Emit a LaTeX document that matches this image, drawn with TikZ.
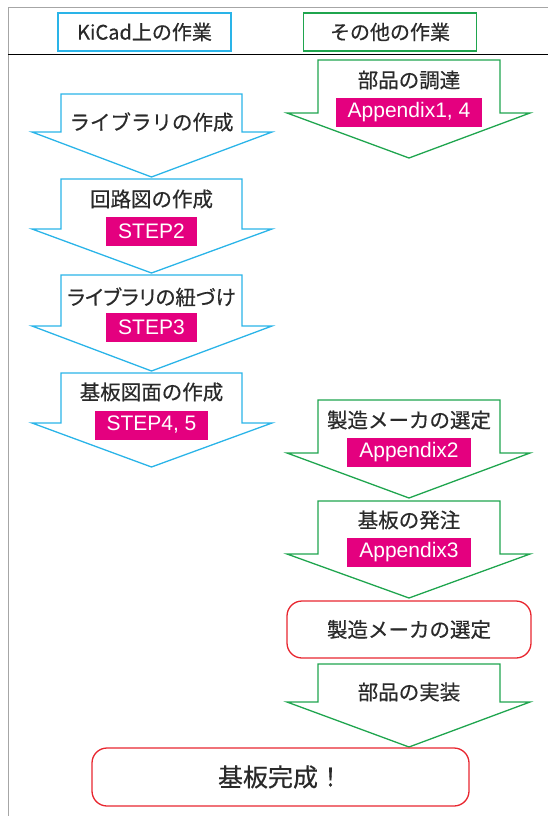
\documentclass[tikz,border=0pt]{standalone}
\usepackage{fontspec}
\setmainfont[FakeBold=0.5]{Noto Sans CJK JP}
\newfontfamily\paltfont[RawFeature=+palt,FakeBold=0.5]{Noto Sans CJK JP}
\newfontfamily\latinfont{Liberation Sans}
\definecolor{kcyan}{HTML}{2AB4E8}
\definecolor{kgreen}{HTML}{1FA54E}
\definecolor{kred}{HTML}{E8262F}
\definecolor{kmag}{HTML}{E4007F}
\definecolor{ktext}{HTML}{2A2A2A}
\newcommand{\flowarrow}[8]{%
  \draw[#1] (#2,#6) -- (#3,#6) -- (#3,#7) -- (#5,#7) -- ({(#2+#3)/2},#8)
    -- (#4,#7) -- (#2,#7) -- cycle;}
\begin{document}
\begin{tikzpicture}[x=1pt,y=-1pt,
  cyanarrow/.style={draw=kcyan,line width=1.3pt,line join=miter},
  greenarrow/.style={draw=kgreen,line width=1.3pt,line join=miter},
  jtext/.style={text=ktext,font=\fontsize{20.5}{24}\selectfont,inner sep=0pt},
  bigtext/.style={text=ktext,font=\fontsize{25}{30}\selectfont,inner sep=0pt},
  tag/.style={fill=kmag,text=white,font=\latinfont\fontsize{21}{24}\selectfont,
    inner xsep=12pt,inner ysep=0pt,minimum height=29pt},
  headbox/.style={line width=1.5pt,minimum width=173pt,minimum height=38pt,
    text=ktext,font=\fontsize{20}{24}\selectfont,inner sep=0pt},
  endbox/.style={draw=kred,line width=1.3pt,rounded corners=15pt,inner sep=0pt}]
\useasboundingbox (0,0) rectangle (548,816);
% frame
\draw[gray!70,line width=1pt] (8,816) -- (8,8) -- (548,8);
\draw[black,line width=1pt] (8,55) -- (548,55);
% headers
\node[headbox,draw=kcyan] (hk) at (144.5,32) {KiCad上の作業};
\node[headbox,draw=kgreen] (ho) at (390,32) {その他の作業};
% left column arrows
\flowarrow{cyanarrow}{61}{242}{32}{272}{94}{132}{177}
\flowarrow{cyanarrow}{61}{242}{32}{272}{179}{229}{273}
\flowarrow{cyanarrow}{61}{242}{32}{272}{275}{326}{371}
\flowarrow{cyanarrow}{61}{242}{32}{272}{373}{423}{467}
\node[jtext] (l1) at (151.5,122) {ライブラリの作成};
\node[jtext] (l2) at (151.5,199) {回路図の作成};
\node[tag] (s2) at (151.5,231.5) {STEP2};
\node[jtext,font=\paltfont\fontsize{20.5}{24}\selectfont] (l3) at (151.5,297) {ライブラリの紐づけ};
\node[tag] (s3) at (151.5,327.5) {STEP3};
\node[jtext] (l4) at (151.5,392) {基板図面の作成};
\node[tag] (s4) at (151.5,425) {STEP4, 5};
% right column arrows
\flowarrow{greenarrow}{318}{500}{287}{530}{60}{113}{158}
\flowarrow{greenarrow}{318}{500}{287}{530}{400}{453}{498}
\flowarrow{greenarrow}{318}{500}{287}{530}{501}{554}{598}
\flowarrow{greenarrow}{318}{500}{287}{530}{664}{702}{747}
\node[jtext] (r1) at (409,80) {部品の調達};
\node[tag] (a1) at (409,112.5) {Appendix1, 4};
\node[jtext] (r2) at (409,420) {製造メーカの選定};
\node[tag] (a2) at (409,452.5) {Appendix2};
\node[jtext] (r3) at (409,520) {基板の発注};
\node[tag] (a3) at (409,552.5) {Appendix3};
\node[jtext] (r4) at (409,692) {部品の実装};
% rounded boxes
\node[endbox,minimum width=244pt,minimum height=57pt] (m1) at (409,629.5) {};
\node[jtext] (m1t) at (m1.center) {製造メーカの選定};
\node[endbox,minimum width=377pt,minimum height=58pt] (fin) at (280.5,777) {};
\node[bigtext] (fint) at (fin.center) {基板完成！};
\end{tikzpicture}
\end{document}
